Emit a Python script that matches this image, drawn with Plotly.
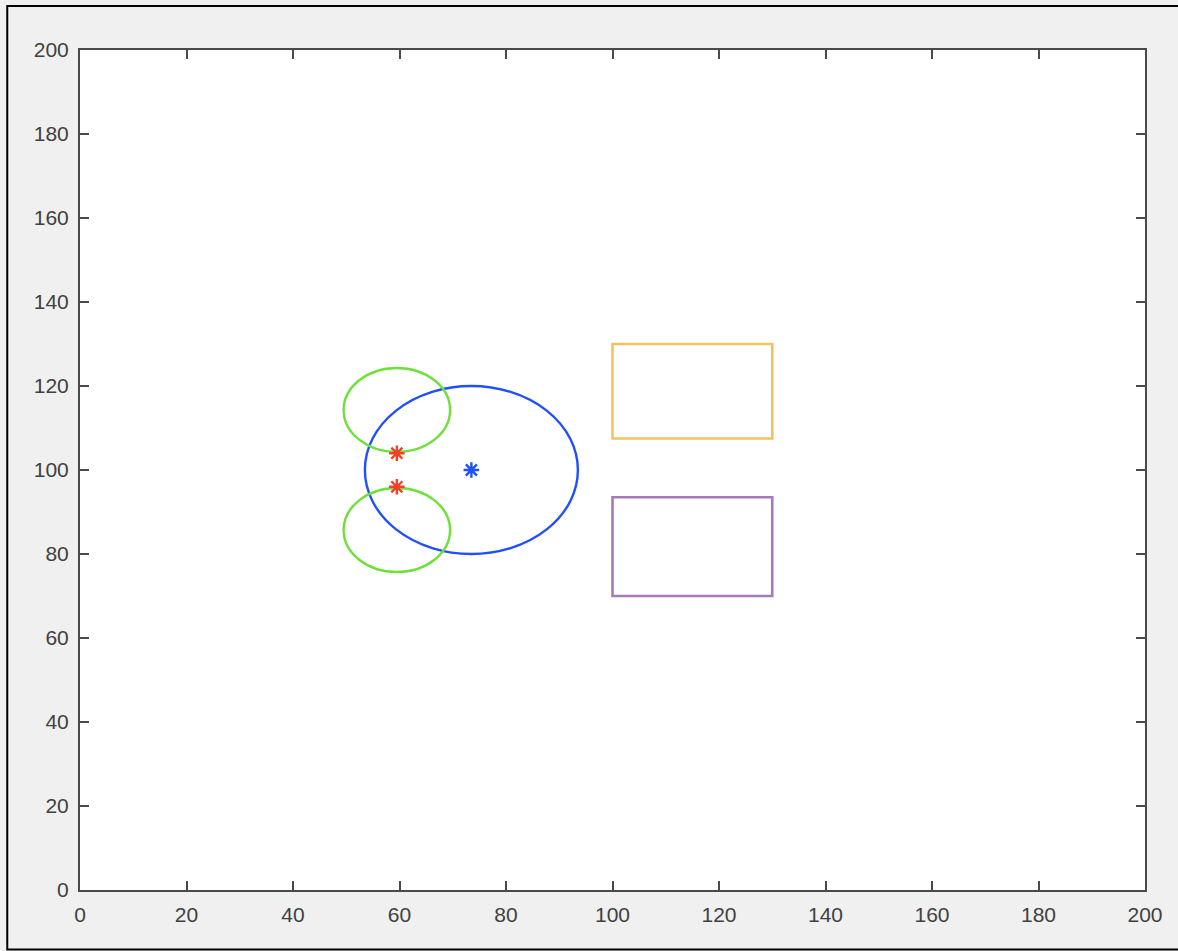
import plotly.graph_objects as go

# Large blue circle and its centre
blue_center = [73.5, 100.0]
blue_radius = 20.0

# Two small green circles
green_centers_x = [59.5, 59.5]
green_centers_y = [114.3, 85.7]
green_radius = 10.0

# Red marker points
red_x = [59.5, 59.5]
red_y = [104.0, 96.0]

# Rectangles: [x0, x1, y0, y1]
orange_rect = [100.0, 130.0, 107.5, 130.0]
purple_rect = [100.0, 130.0, 70.0, 93.5]

tick_vals = [0, 20, 40, 60, 80, 100, 120, 140, 160, 180, 200]
tick_text = [str(v) for v in tick_vals]

BLUE = "#1f4fff"
GREEN = "#6fe03a"
RED = "#f0402a"
ORANGE = "#f2c35c"
PURPLE = "#a67ab9"

fig = go.Figure()

shapes = []
# blue circle
shapes.append(dict(type="circle", xref="x", yref="y", layer="below",
                   x0=blue_center[0] - blue_radius, x1=blue_center[0] + blue_radius,
                   y0=blue_center[1] - blue_radius, y1=blue_center[1] + blue_radius,
                   line=dict(color=BLUE, width=2.4)))
# green circles
for cx, cy in zip(green_centers_x, green_centers_y):
    shapes.append(dict(type="circle", xref="x", yref="y", layer="below",
                       x0=cx - green_radius, x1=cx + green_radius,
                       y0=cy - green_radius, y1=cy + green_radius,
                       line=dict(color=GREEN, width=2.4)))
# rectangles
for rect, col in [(orange_rect, ORANGE), (purple_rect, PURPLE)]:
    shapes.append(dict(type="rect", xref="x", yref="y", layer="below",
                       x0=rect[0], x1=rect[1], y0=rect[2], y1=rect[3],
                       line=dict(color=col, width=2.6)))
# figure frame
shapes.append(dict(type="rect", xref="paper", yref="paper",
                   x0=-0.0683, x1=1.04, y0=-0.0708, y1=1.0524,
                   line=dict(color="#000000", width=2), layer="below"))

fig.add_trace(go.Scatter(x=red_x, y=red_y, mode="markers",
                         marker=dict(symbol="asterisk-open", size=13, color=RED,
                                     line=dict(color=RED, width=2.4)),
                         showlegend=False, hoverinfo="skip"))
fig.add_trace(go.Scatter(x=[blue_center[0]], y=[blue_center[1]], mode="markers",
                         marker=dict(symbol="asterisk-open", size=13, color=BLUE,
                                     line=dict(color=BLUE, width=2.4)),
                         showlegend=False, hoverinfo="skip"))

axis_common = dict(range=[0, 200], tickvals=tick_vals, ticktext=tick_text,
                   ticks="inside", ticklen=9, tickwidth=1.6, tickcolor="#4a4a4a",
                   showline=True, linecolor="#4a4a4a", linewidth=2, mirror="ticks",
                   showgrid=False, zeroline=False,
                   tickfont=dict(family="Liberation Sans, Arial, sans-serif",
                                 size=21, color="#404040"))

fig.update_layout(
    width=1178, height=951,
    margin=dict(l=80, r=33, t=50, b=61),
    paper_bgcolor="#f0f0f0",
    plot_bgcolor="#ffffff",
    shapes=shapes,
    xaxis=dict(**axis_common, ticklabelstandoff=5),
    yaxis=dict(**axis_common, ticklabelstandoff=5),
    showlegend=False,
)

fig.write_html("out.html")
